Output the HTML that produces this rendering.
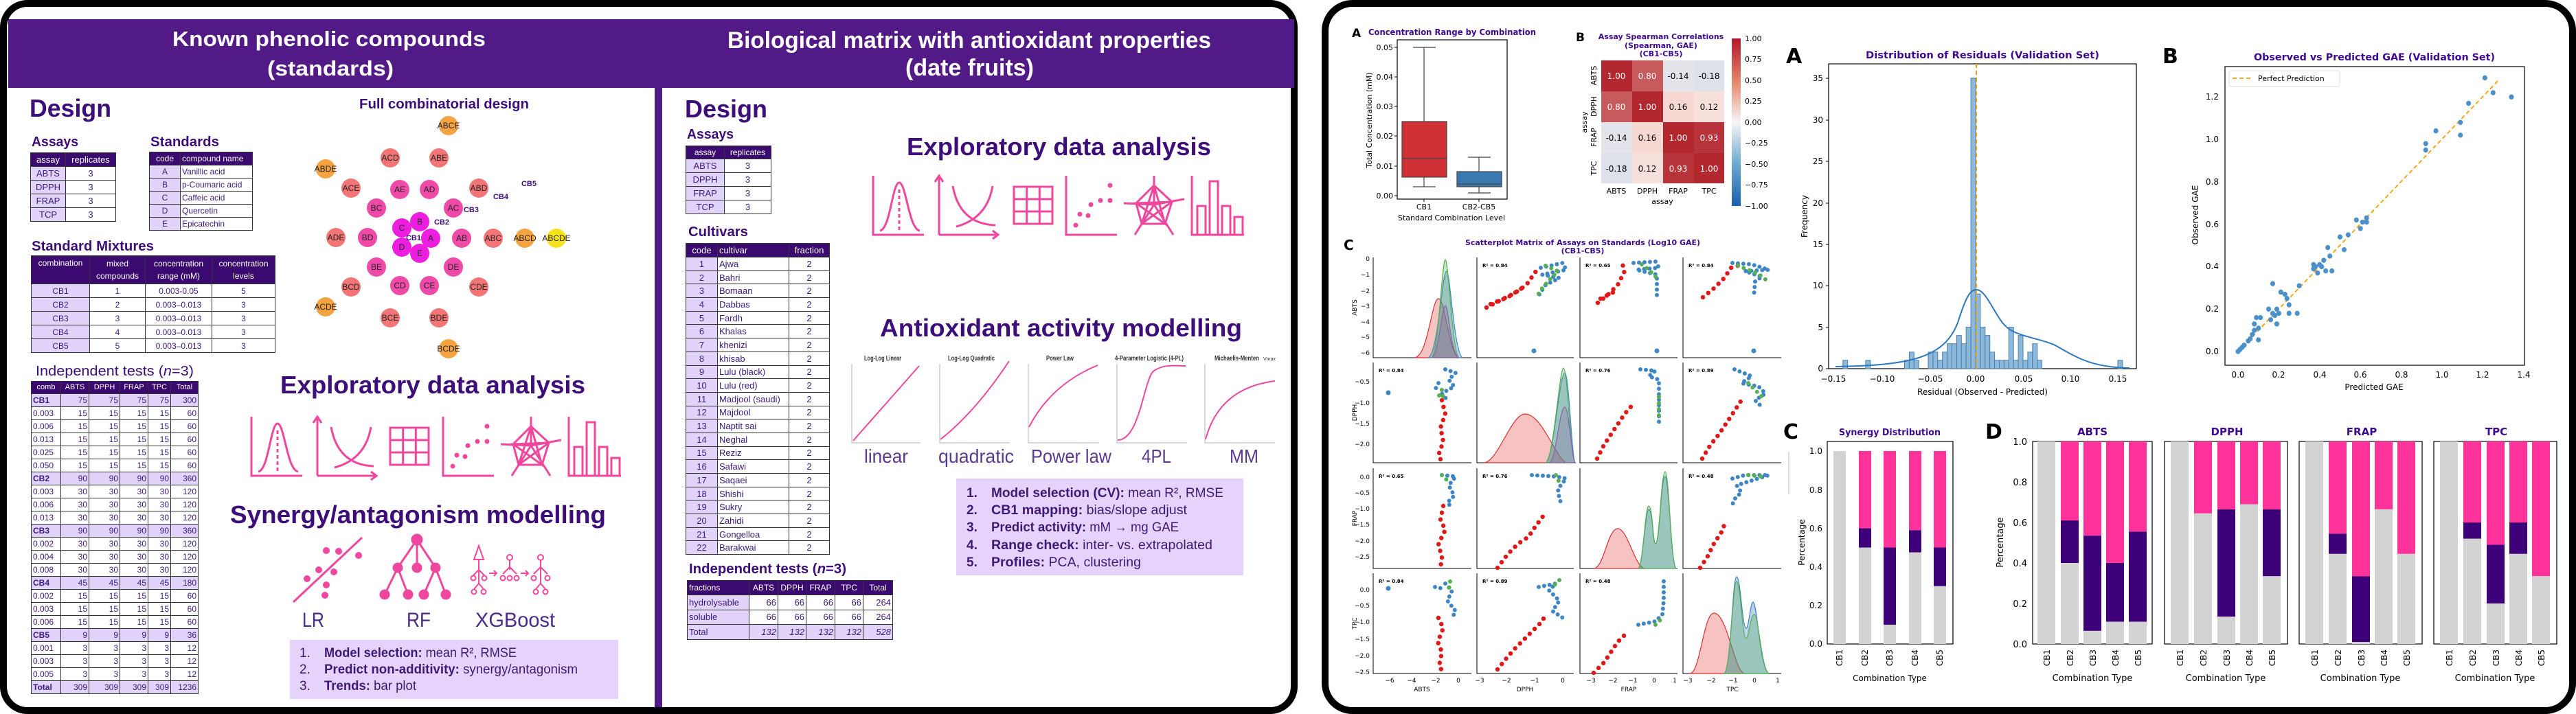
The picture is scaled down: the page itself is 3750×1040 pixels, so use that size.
<!DOCTYPE html>
<html><head><meta charset="utf-8">
<style>
*{margin:0;padding:0;box-sizing:border-box}
body{width:3750px;height:1040px;background:#fff;position:relative;overflow:hidden;font-family:"Liberation Sans",sans-serif}
.frame{position:absolute;border:10px solid #000;background:#fff}
table{position:absolute;border-collapse:collapse;table-layout:fixed;font-family:"Liberation Sans Narrow","Liberation Sans",sans-serif;color:#3b1a80}
td{border:1.5px solid #333;padding:0 2px;line-height:1;overflow:hidden;white-space:nowrap}
tr.h td{background:#3a0a70;color:#fff;text-align:center}
td.l{background:#e2d3fb}
tr.s td{background:#e2d3fb}
.c{text-align:center}.r{text-align:right}
svg{position:absolute;left:0;top:0}
</style></head><body>

<div class="frame" style="left:0;top:0;width:1889px;height:1040px;border-radius:40px"></div>
<div class="frame" style="left:1924px;top:0;width:1826px;height:1040px;border-radius:45px"></div>
<div style="position:absolute;left:12px;top:28px;width:1872px;height:100px;background:#521a87"></div>
<div style="position:absolute;left:953px;top:128px;width:11px;height:902px;background:#521a87"></div>

<!-- LEFT TABLES -->
<table style="left:44px;top:222px;width:124px;font-size:13px">
<col width="51"><col width="73">
<tr class="h" style="height:20px"><td>assay</td><td>replicates</td></tr>
<tr style="height:20px"><td class="l c">ABTS</td><td class="c">3</td></tr>
<tr style="height:20px"><td class="l c">DPPH</td><td class="c">3</td></tr>
<tr style="height:20px"><td class="l c">FRAP</td><td class="c">3</td></tr>
<tr style="height:20px"><td class="l c">TCP</td><td class="c">3</td></tr>
</table>
<table style="left:217px;top:221px;width:150px;font-size:12px">
<col width="45"><col width="105">
<tr class="h" style="height:19px"><td>code</td><td style="text-align:left">compound name</td></tr>
<tr style="height:19px"><td class="l c">A</td><td>Vanillic acid</td></tr>
<tr style="height:19px"><td class="l c">B</td><td>p-Coumaric acid</td></tr>
<tr style="height:19px"><td class="l c">C</td><td>Caffeic acid</td></tr>
<tr style="height:19px"><td class="l c">D</td><td>Quercetin</td></tr>
<tr style="height:19px"><td class="l c">E</td><td>Epicatechin</td></tr>
</table>
<table style="left:45px;top:372px;width:355px;font-size:12px">
<col width="85"><col width="81"><col width="97"><col width="92">
<tr class="h" style="height:41px"><td style="vertical-align:top;padding-top:4px">combination</td><td style="line-height:18px">mixed<br>compounds</td><td style="line-height:18px;padding:0">concentration<br>range (mM)</td><td style="line-height:18px;padding:0">concentration<br>levels</td></tr>
<tr style="height:20px"><td class="l c">CB1</td><td class="c">1</td><td class="c">0.003-0.05</td><td class="c">5</td></tr>
<tr style="height:20px"><td class="l c">CB2</td><td class="c">2</td><td class="c">0.003–0.013</td><td class="c">3</td></tr>
<tr style="height:20px"><td class="l c">CB3</td><td class="c">3</td><td class="c">0.003–0.013</td><td class="c">3</td></tr>
<tr style="height:20px"><td class="l c">CB4</td><td class="c">4</td><td class="c">0.003–0.013</td><td class="c">3</td></tr>
<tr style="height:20px"><td class="l c">CB5</td><td class="c">5</td><td class="c">0.003–0.013</td><td class="c">3</td></tr>
</table>
<table style="left:45px;top:555px;width:243px;font-size:12px">
<col width="43"><col width="41"><col width="45"><col width="41"><col width="33"><col width="40">
<tr class="h" style="height:18px;font-size:11px"><td style="padding:0 1px">comb</td><td style="padding:0">ABTS</td><td style="padding:0">DPPH</td><td style="padding:0">FRAP</td><td style="padding:0">TPC</td><td style="padding:0">Total</td></tr>
<tr class="s" style="height:19px"><td><b>CB1</b></td><td class="r">75</td><td class="r">75</td><td class="r">75</td><td class="r">75</td><td class="r">300</td></tr>
<tr style="height:19px"><td>0.003</td><td class="r">15</td><td class="r">15</td><td class="r">15</td><td class="r">15</td><td class="r">60</td></tr>
<tr style="height:19px"><td>0.006</td><td class="r">15</td><td class="r">15</td><td class="r">15</td><td class="r">15</td><td class="r">60</td></tr>
<tr style="height:19px"><td>0.013</td><td class="r">15</td><td class="r">15</td><td class="r">15</td><td class="r">15</td><td class="r">60</td></tr>
<tr style="height:19px"><td>0.025</td><td class="r">15</td><td class="r">15</td><td class="r">15</td><td class="r">15</td><td class="r">60</td></tr>
<tr style="height:19px"><td>0.050</td><td class="r">15</td><td class="r">15</td><td class="r">15</td><td class="r">15</td><td class="r">60</td></tr>
<tr class="s" style="height:19px"><td><b>CB2</b></td><td class="r">90</td><td class="r">90</td><td class="r">90</td><td class="r">90</td><td class="r">360</td></tr>
<tr style="height:19px"><td>0.003</td><td class="r">30</td><td class="r">30</td><td class="r">30</td><td class="r">30</td><td class="r">120</td></tr>
<tr style="height:19px"><td>0.006</td><td class="r">30</td><td class="r">30</td><td class="r">30</td><td class="r">30</td><td class="r">120</td></tr>
<tr style="height:19px"><td>0.013</td><td class="r">30</td><td class="r">30</td><td class="r">30</td><td class="r">30</td><td class="r">120</td></tr>
<tr class="s" style="height:19px"><td><b>CB3</b></td><td class="r">90</td><td class="r">90</td><td class="r">90</td><td class="r">90</td><td class="r">360</td></tr>
<tr style="height:19px"><td>0.002</td><td class="r">30</td><td class="r">30</td><td class="r">30</td><td class="r">30</td><td class="r">120</td></tr>
<tr style="height:19px"><td>0.004</td><td class="r">30</td><td class="r">30</td><td class="r">30</td><td class="r">30</td><td class="r">120</td></tr>
<tr style="height:19px"><td>0.008</td><td class="r">30</td><td class="r">30</td><td class="r">30</td><td class="r">30</td><td class="r">120</td></tr>
<tr class="s" style="height:19px"><td><b>CB4</b></td><td class="r">45</td><td class="r">45</td><td class="r">45</td><td class="r">45</td><td class="r">180</td></tr>
<tr style="height:19px"><td>0.002</td><td class="r">15</td><td class="r">15</td><td class="r">15</td><td class="r">15</td><td class="r">60</td></tr>
<tr style="height:19px"><td>0.003</td><td class="r">15</td><td class="r">15</td><td class="r">15</td><td class="r">15</td><td class="r">60</td></tr>
<tr style="height:19px"><td>0.006</td><td class="r">15</td><td class="r">15</td><td class="r">15</td><td class="r">15</td><td class="r">60</td></tr>
<tr class="s" style="height:19px"><td><b>CB5</b></td><td class="r">9</td><td class="r">9</td><td class="r">9</td><td class="r">9</td><td class="r">36</td></tr>
<tr style="height:19px"><td>0.001</td><td class="r">3</td><td class="r">3</td><td class="r">3</td><td class="r">3</td><td class="r">12</td></tr>
<tr style="height:19px"><td>0.003</td><td class="r">3</td><td class="r">3</td><td class="r">3</td><td class="r">3</td><td class="r">12</td></tr>
<tr style="height:19px"><td>0.005</td><td class="r">3</td><td class="r">3</td><td class="r">3</td><td class="r">3</td><td class="r">12</td></tr>
<tr class="s" style="height:19px"><td><b>Total</b></td><td class="r">309</td><td class="r">309</td><td class="r">309</td><td class="r">309</td><td class="r">1236</td></tr>
</table>

<!-- RIGHT-HALF TABLES -->
<table style="left:998px;top:212px;width:124px;font-size:13px;font-family:'Liberation Sans',sans-serif">
<col width="56"><col width="68">
<tr class="h" style="height:19px;font-size:12px"><td>assay</td><td>replicates</td></tr>
<tr style="height:20px"><td class="l c">ABTS</td><td class="c">3</td></tr>
<tr style="height:20px"><td class="l c">DPPH</td><td class="c">3</td></tr>
<tr style="height:20px"><td class="l c">FRAP</td><td class="c">3</td></tr>
<tr style="height:20px"><td class="l c">TCP</td><td class="c">3</td></tr>
</table>
<table style="left:998px;top:354px;width:209px;font-size:13px;font-family:'Liberation Sans',sans-serif">
<col width="46"><col width="104"><col width="59">
<tr class="h" style="height:20px"><td>code</td><td style="text-align:left">cultivar</td><td>fraction</td></tr>
<tr style="height:19.7px"><td class="l c">1</td><td>Ajwa</td><td class="c">2</td></tr>
<tr style="height:19.7px"><td class="l c">2</td><td>Bahri</td><td class="c">2</td></tr>
<tr style="height:19.7px"><td class="l c">3</td><td>Bomaan</td><td class="c">2</td></tr>
<tr style="height:19.7px"><td class="l c">4</td><td>Dabbas</td><td class="c">2</td></tr>
<tr style="height:19.7px"><td class="l c">5</td><td>Fardh</td><td class="c">2</td></tr>
<tr style="height:19.7px"><td class="l c">6</td><td>Khalas</td><td class="c">2</td></tr>
<tr style="height:19.7px"><td class="l c">7</td><td>khenizi</td><td class="c">2</td></tr>
<tr style="height:19.7px"><td class="l c">8</td><td>khisab</td><td class="c">2</td></tr>
<tr style="height:19.7px"><td class="l c">9</td><td>Lulu (black)</td><td class="c">2</td></tr>
<tr style="height:19.7px"><td class="l c">10</td><td>Lulu (red)</td><td class="c">2</td></tr>
<tr style="height:19.7px"><td class="l c">11</td><td>Madjool (saudi)</td><td class="c">2</td></tr>
<tr style="height:19.7px"><td class="l c">12</td><td>Majdool</td><td class="c">2</td></tr>
<tr style="height:19.7px"><td class="l c">13</td><td>Naptit sai</td><td class="c">2</td></tr>
<tr style="height:19.7px"><td class="l c">14</td><td>Neghal</td><td class="c">2</td></tr>
<tr style="height:19.7px"><td class="l c">15</td><td>Reziz</td><td class="c">2</td></tr>
<tr style="height:19.7px"><td class="l c">16</td><td>Safawi</td><td class="c">2</td></tr>
<tr style="height:19.7px"><td class="l c">17</td><td>Saqaei</td><td class="c">2</td></tr>
<tr style="height:19.7px"><td class="l c">18</td><td>Shishi</td><td class="c">2</td></tr>
<tr style="height:19.7px"><td class="l c">19</td><td>Sukry</td><td class="c">2</td></tr>
<tr style="height:19.7px"><td class="l c">20</td><td>Zahidi</td><td class="c">2</td></tr>
<tr style="height:19.7px"><td class="l c">21</td><td>Gongelloa</td><td class="c">2</td></tr>
<tr style="height:19.7px"><td class="l c">22</td><td>Barakwai</td><td class="c">2</td></tr>
</table>
<table style="left:1000px;top:845px;width:299px;font-size:13px;font-family:'Liberation Sans',sans-serif">
<col width="90"><col width="42"><col width="41"><col width="42"><col width="41"><col width="43">
<tr class="h" style="height:21px;font-size:12px"><td style="text-align:left">fractions</td><td style="padding:0">ABTS</td><td style="padding:0">DPPH</td><td style="padding:0">FRAP</td><td>TPC</td><td style="padding:0">Total</td></tr>
<tr style="height:21.5px"><td class="l">hydrolysable</td><td class="r">66</td><td class="r">66</td><td class="r">66</td><td class="r">66</td><td class="r">264</td></tr>
<tr style="height:21.5px"><td class="l">soluble</td><td class="r">66</td><td class="r">66</td><td class="r">66</td><td class="r">66</td><td class="r">264</td></tr>
<tr class="s" style="height:21.5px;font-style:italic"><td style="font-style:normal">Total</td><td class="r">132</td><td class="r">132</td><td class="r">132</td><td class="r">132</td><td class="r">528</td></tr>
</table>

<svg width="3750" height="1040" viewBox="0 0 3750 1040" font-family="Liberation Sans, sans-serif">
<defs>
<g id="i1" fill="none" stroke="#f0479e" stroke-width="3"><path d="M0,0V86H74"/><path d="M10,80C25,78 28,10 38,10C48,10 52,78 68,80"/><path d="M38,20V80" stroke-dasharray="5 4"/></g>
<g id="i2" fill="none" stroke="#f0479e" stroke-width="3"><path d="M0,86V0M-6,9L0,0L6,9M0,86H86M78,80L86,86L78,92"/><path d="M20,15Q30,70 82,72"/><path d="M25,74Q70,62 78,15"/></g>
<g id="i3" fill="none" stroke="#f0479e" stroke-width="3"><rect x="0" y="16" width="56" height="54"/><path d="M18.7,16V70M37.3,16V70M0,34H56M0,52H56"/></g>
<g id="i4"><path d="M0,0V86H74" fill="none" stroke="#f0479e" stroke-width="3"/><g fill="#f0479e"><circle cx="14" cy="72" r="3.5"/><circle cx="20" cy="56" r="3.5"/><circle cx="32" cy="58" r="3.5"/><circle cx="36" cy="42" r="3.5"/><circle cx="50" cy="36" r="3.5"/><circle cx="64" cy="36" r="3.5"/><circle cx="64" cy="14" r="3.5"/></g></g>
<g id="i5" fill="none" stroke="#f0479e" stroke-width="3"><path d="M44,0V42M0,40L44,42L88,34M44,42L16,86M44,42L72,86"/><path d="M44,14L70,38L60,70L26,70L18,40Z"/><path d="M44,14L60,70L18,40L70,38L26,70Z"/></g>
<g id="i6" fill="none" stroke="#f0479e" stroke-width="3"><path d="M0,0V86H76"/><rect x="8" y="44" width="12" height="42"/><rect x="26" y="8" width="12" height="78"/><rect x="44" y="44" width="12" height="42"/><rect x="62" y="60" width="12" height="26"/></g>
</defs>

<g fill="#fff" font-weight="bold">
<text x="251" y="67" font-size="31" textLength="456" lengthAdjust="spacingAndGlyphs">Known phenolic compounds</text>
<text x="389" y="110" font-size="31" textLength="184" lengthAdjust="spacingAndGlyphs">(standards)</text>
<text x="1059" y="70" font-size="34" textLength="704" lengthAdjust="spacingAndGlyphs">Biological matrix with antioxidant properties</text>
<text x="1318" y="110" font-size="34" textLength="187" lengthAdjust="spacingAndGlyphs">(date fruits)</text>
</g>
<g fill="#3d0d7a" font-weight="bold">
<text x="43" y="170" font-size="36" textLength="119" lengthAdjust="spacingAndGlyphs">Design</text>
<text x="46" y="213" font-size="20" textLength="68" lengthAdjust="spacingAndGlyphs">Assays</text>
<text x="219" y="213" font-size="20" textLength="100" lengthAdjust="spacingAndGlyphs">Standards</text>
<text x="46" y="365" font-size="20" textLength="178" lengthAdjust="spacingAndGlyphs">Standard Mixtures</text>
<text x="523" y="158" font-size="20" textLength="247" lengthAdjust="spacingAndGlyphs">Full combinatorial design</text>
<text x="52" y="547" font-size="20" font-weight="normal" textLength="230" lengthAdjust="spacingAndGlyphs">Independent tests (<tspan font-style="italic">n</tspan>=3)</text>
<text x="408" y="573" font-size="36" textLength="444" lengthAdjust="spacingAndGlyphs">Exploratory data analysis</text>
<text x="335" y="762" font-size="36" textLength="547" lengthAdjust="spacingAndGlyphs">Synergy/antagonism modelling</text>
<text x="997" y="171" font-size="36" textLength="120" lengthAdjust="spacingAndGlyphs">Design</text>
<text x="1000" y="202" font-size="20" textLength="68" lengthAdjust="spacingAndGlyphs">Assays</text>
<text x="1002" y="344" font-size="20" textLength="87" lengthAdjust="spacingAndGlyphs">Cultivars</text>
<text x="1003" y="835" font-size="20" textLength="229" lengthAdjust="spacingAndGlyphs">Independent tests (<tspan font-style="italic">n</tspan>=3)</text>
<text x="1320" y="226" font-size="36" textLength="443" lengthAdjust="spacingAndGlyphs">Exploratory data analysis</text>
<text x="1281" y="490" font-size="36" textLength="527" lengthAdjust="spacingAndGlyphs">Antioxidant activity modelling</text>
</g>

<g font-size="12" text-anchor="middle" fill="#222">
<g fill="#f4a340"><circle cx="653" cy="183" r="14"/><circle cx="474" cy="246" r="14"/><circle cx="764" cy="347" r="14"/><circle cx="474" cy="447" r="14"/><circle cx="653" cy="508" r="14"/></g>
<circle cx="810" cy="347" r="14" fill="#f5e31a"/>
<g fill="#f47575"><circle cx="568" cy="230" r="14"/><circle cx="639" cy="230" r="14"/><circle cx="511" cy="274" r="14"/><circle cx="697" cy="274" r="14"/><circle cx="489" cy="346" r="14"/><circle cx="718" cy="347" r="14"/><circle cx="511" cy="418" r="14"/><circle cx="697" cy="418" r="14"/><circle cx="568" cy="463" r="14"/><circle cx="639" cy="463" r="14"/></g>
<g fill="#f04aa8"><circle cx="582" cy="276" r="14"/><circle cx="625" cy="276" r="14"/><circle cx="548" cy="303" r="14"/><circle cx="660" cy="303" r="14"/><circle cx="535" cy="346" r="14"/><circle cx="672" cy="347" r="14"/><circle cx="548" cy="389" r="14"/><circle cx="660" cy="389" r="14"/><circle cx="582" cy="416" r="14"/><circle cx="625" cy="416" r="14"/></g>
<g fill="#ee1ee0"><circle cx="611" cy="323" r="14"/><circle cx="585" cy="332" r="14"/><circle cx="627" cy="347" r="14"/><circle cx="585" cy="360" r="14"/><circle cx="611" cy="369" r="14"/></g>
<text x="653" y="187">ABCE</text><text x="474" y="250">ABDE</text><text x="764" y="351">ABCD</text><text x="474" y="451">ACDE</text><text x="653" y="512">BCDE</text><text x="810" y="351">ABCDE</text>
<text x="568" y="234">ACD</text><text x="639" y="234">ABE</text><text x="511" y="278">ACE</text><text x="697" y="278">ABD</text><text x="489" y="350">ADE</text><text x="718" y="351">ABC</text><text x="511" y="422">BCD</text><text x="697" y="422">CDE</text><text x="568" y="467">BCE</text><text x="639" y="467">BDE</text>
<text x="582" y="280">AE</text><text x="625" y="280">AD</text><text x="548" y="307">BC</text><text x="660" y="307">AC</text><text x="535" y="350">BD</text><text x="672" y="351">AB</text><text x="548" y="393">BE</text><text x="660" y="393">DE</text><text x="582" y="420">CD</text><text x="625" y="420">CE</text>
<text x="611" y="327">B</text><text x="585" y="336">C</text><text x="627" y="351">A</text><text x="585" y="364">D</text><text x="611" y="373">E</text>
<g font-weight="bold" fill="#3d0d7a" font-size="11"><text x="770" y="271">CB5</text><text x="729" y="290">CB4</text><text x="686" y="309">CB3</text><text x="643" y="327">CB2</text><text x="602" y="350">CB1</text></g>
</g>

<use href="#i1" transform="translate(366,607)"/><use href="#i2" transform="translate(462,607)"/><use href="#i3" transform="translate(568,607)"/><use href="#i4" transform="translate(645,607)"/><use href="#i5" transform="translate(729,607)"/><use href="#i6" transform="translate(828,607)"/>
<use href="#i1" transform="translate(1271,256)"/><use href="#i2" transform="translate(1367,256)"/><use href="#i3" transform="translate(1476,256)"/><use href="#i4" transform="translate(1552,256)"/><use href="#i5" transform="translate(1636,256)"/><use href="#i6" transform="translate(1735,256)"/>

<g fill="#f0479e" stroke="#f0479e" stroke-width="3">
<path d="M427,877L527,783" fill="none"/>
<circle cx="475" cy="802" r="5" stroke="none"/><circle cx="493" cy="803" r="5" stroke="none"/><circle cx="522" cy="809" r="5" stroke="none"/><circle cx="464" cy="830" r="5" stroke="none"/><circle cx="486" cy="833" r="5" stroke="none"/><circle cx="447" cy="843" r="5" stroke="none"/><circle cx="475" cy="852" r="5" stroke="none"/><circle cx="473" cy="867" r="5" stroke="none"/>
<path d="M607,786L579,827M607,786V827M607,786L634,827M579,827L560,866M579,827L594,866M634,827L617,866M634,827L649,866" fill="none"/>
<circle cx="607" cy="786" r="7"/><circle cx="579" cy="827" r="6"/><circle cx="607" cy="827" r="6"/><circle cx="634" cy="827" r="6"/><circle cx="560" cy="866" r="6"/><circle cx="594" cy="866" r="6"/><circle cx="617" cy="866" r="6"/><circle cx="649" cy="866" r="6"/>
</g>
<g fill="none" stroke="#f0479e" stroke-width="2">
<path d="M697,795L690,815H704Z"/><path d="M697,815V850M697,830L689,838M697,830L705,838M697,850L690,858M697,850L704,858"/>
<circle cx="689" cy="842" r="3.5"/><circle cx="705" cy="842" r="3.5"/><circle cx="690" cy="862" r="3.5"/><circle cx="704" cy="862" r="3.5"/>
<path d="M712,835H722M719,831L723,835L719,839"/>
<circle cx="742" cy="812" r="4"/><path d="M742,816V830M742,826L732,836M742,826L752,836"/><circle cx="732" cy="842" r="3.5"/><circle cx="742" cy="842" r="3.5"/><circle cx="752" cy="842" r="3.5"/>
<path d="M758,835H768M765,831L769,835L765,839"/>
<circle cx="787" cy="812" r="4"/><path d="M787,816V850M787,826L777,836M787,826L797,836M787,850L780,858M787,850L794,858"/><circle cx="777" cy="842" r="3.5"/><circle cx="797" cy="842" r="3.5"/><circle cx="780" cy="862" r="3.5"/><circle cx="794" cy="862" r="3.5"/>
</g>
<g fill="#4a2a8a" font-size="30"><text x="440" y="913" textLength="32" lengthAdjust="spacingAndGlyphs">LR</text><text x="592" y="913" textLength="35" lengthAdjust="spacingAndGlyphs">RF</text><text x="692" y="913" textLength="116" lengthAdjust="spacingAndGlyphs">XGBoost</text></g>

<rect x="422" y="932" width="478" height="86" fill="#e5d3fb"/>
<g fill="#3d1a78" font-size="19">
<text x="436" y="957">1.</text><text x="472" y="957" textLength="280" lengthAdjust="spacingAndGlyphs"><tspan font-weight="bold">Model selection:</tspan> mean R², RMSE</text>
<text x="436" y="981">2.</text><text x="472" y="981" textLength="369" lengthAdjust="spacingAndGlyphs"><tspan font-weight="bold">Predict non-additivity:</tspan> synergy/antagonism</text>
<text x="436" y="1005">3.</text><text x="472" y="1005" textLength="134" lengthAdjust="spacingAndGlyphs"><tspan font-weight="bold">Trends:</tspan> bar plot</text>
</g>

<g fill="none" stroke="#ccc" stroke-width="1.5">
<path d="M1240,530V645H1340"/><path d="M1368,530V645H1470"/><path d="M1497,530V645H1600"/><path d="M1626,530V645H1728"/><path d="M1754,530V645H1856"/>
</g>
<g fill="none" stroke="#f0479e" stroke-width="2">
<path d="M1242,642L1338,533"/><path d="M1369,640Q1420,600 1469,526"/><path d="M1498,622Q1530,560 1598,532"/><path d="M1627,641C1660,641 1665,550 1680,540S1710,533 1726,533"/><path d="M1755,640Q1775,565 1856,555"/>
</g>
<g fill="#333" font-size="10" font-weight="bold">
<text x="1258" y="525" textLength="54" lengthAdjust="spacingAndGlyphs">Log-Log Linear</text>
<text x="1380" y="525" textLength="68" lengthAdjust="spacingAndGlyphs">Log-Log Quadratic</text>
<text x="1523" y="525" textLength="40" lengthAdjust="spacingAndGlyphs">Power Law</text>
<text x="1623" y="525" textLength="100" lengthAdjust="spacingAndGlyphs">4-Parameter Logistic (4-PL)</text>
<text x="1768" y="525" textLength="65" lengthAdjust="spacingAndGlyphs">Michaelis-Menten</text>
<text x="1839" y="525" font-size="7" font-weight="normal">Vmax</text>
</g>
<g fill="#5a3a91" font-size="28">
<text x="1258" y="674" textLength="64" lengthAdjust="spacingAndGlyphs">linear</text>
<text x="1366" y="674" textLength="110" lengthAdjust="spacingAndGlyphs">quadratic</text>
<text x="1501" y="674" textLength="117" lengthAdjust="spacingAndGlyphs">Power law</text>
<text x="1662" y="674" textLength="43" lengthAdjust="spacingAndGlyphs">4PL</text>
<text x="1790" y="674" textLength="42" lengthAdjust="spacingAndGlyphs">MM</text>
</g>
<rect x="1392" y="697" width="418" height="141" fill="#e5d3fb"/>
<g fill="#3d1a78" font-size="19">
<text x="1407" y="724" font-weight="bold">1.</text><text x="1443" y="724" textLength="338" lengthAdjust="spacingAndGlyphs"><tspan font-weight="bold">Model selection (CV):</tspan> mean R², RMSE</text>
<text x="1407" y="749" font-weight="bold">2.</text><text x="1443" y="749" textLength="285" lengthAdjust="spacingAndGlyphs"><tspan font-weight="bold">CB1 mapping:</tspan> bias/slope adjust</text>
<text x="1407" y="774" font-weight="bold">3.</text><text x="1443" y="774" textLength="273" lengthAdjust="spacingAndGlyphs"><tspan font-weight="bold">Predict activity:</tspan> mM → mg GAE</text>
<text x="1407" y="800" font-weight="bold">4.</text><text x="1443" y="800" textLength="322" lengthAdjust="spacingAndGlyphs"><tspan font-weight="bold">Range check:</tspan> inter- vs. extrapolated</text>
<text x="1407" y="825" font-weight="bold">5.</text><text x="1443" y="825" textLength="218" lengthAdjust="spacingAndGlyphs"><tspan font-weight="bold">Profiles:</tspan> PCA, clustering</text>
</g>

<g font-family="DejaVu Sans, sans-serif">
<g font-weight="bold" fill="#000">
<text x="1968" y="54" font-size="17">A</text><text x="2294" y="60" font-size="17">B</text><text x="1956" y="364" font-size="20">C</text>
<text x="2600" y="92" font-size="30">A</text><text x="3148" y="92" font-size="30">B</text><text x="2596" y="639" font-size="30">C</text><text x="2890" y="639" font-size="30">D</text>
</g>
<g font-weight="bold" fill="#3d0a91">
<text x="1992" y="51" font-size="12" textLength="244" lengthAdjust="spacingAndGlyphs">Concentration Range by Combination</text>
<text x="2418" y="57" font-size="11" text-anchor="middle">Assay Spearman Correlations</text>
<text x="2418" y="70" font-size="11" text-anchor="middle">(Spearman, GAE)</text>
<text x="2418" y="82" font-size="11" text-anchor="middle">(CB1-CB5)</text>
<text x="2133" y="357" font-size="11" textLength="342" lengthAdjust="spacingAndGlyphs">Scatterplot Matrix of Assays on Standards (Log10 GAE)</text>
<text x="2304" y="369" font-size="11" text-anchor="middle">(CB1-CB5)</text>
<text x="2716" y="85" font-size="14" textLength="340" lengthAdjust="spacingAndGlyphs">Distribution of Residuals (Validation Set)</text>
<text x="3281" y="88" font-size="14" textLength="351" lengthAdjust="spacingAndGlyphs">Observed vs Predicted GAE (Validation Set)</text>
<text x="2677" y="634" font-size="13" textLength="148" lengthAdjust="spacingAndGlyphs">Synergy Distribution</text>
<g font-size="15" text-anchor="middle"><text x="3046" y="634">ABTS</text><text x="3242" y="634">DPPH</text><text x="3438" y="634">FRAP</text><text x="3634" y="634">TPC</text></g>
</g>

<rect x="2034" y="58" width="160" height="232" fill="none" stroke="#000" stroke-width="1.2"/>
<g stroke="#444" stroke-width="1.2" fill="none">
<path d="M2073,272V258M2073,177V69M2057,272H2090M2057,69H2090"/>
<path d="M2153,281V272M2153,250V229M2137,281H2170M2137,229H2170"/>
</g>
<rect x="2041" y="177" width="65" height="81" fill="#d03136" stroke="#444" stroke-width="1.2"/>
<path d="M2041,231H2106" stroke="#444" stroke-width="1.2"/>
<rect x="2121" y="250" width="65" height="22" fill="#3a78b0" stroke="#444" stroke-width="1.2"/>
<path d="M2121,268H2186" stroke="#444" stroke-width="1.2"/>
<g font-size="11" text-anchor="end" fill="#000">
<text x="2028" y="73">0.05</text><text x="2028" y="116">0.04</text><text x="2028" y="159">0.03</text><text x="2028" y="202">0.02</text><text x="2028" y="246">0.01</text><text x="2028" y="289">0.00</text>
</g>
<path d="M2030,69H2034M2030,112H2034M2030,155H2034M2030,198H2034M2030,242H2034M2030,285H2034M2073,290V294M2153,290V294" stroke="#000"/>
<g font-size="11" text-anchor="middle"><text x="2073" y="305">CB1</text><text x="2153" y="305">CB2-CB5</text><text x="2113" y="321">Standard Combination Level</text>
<text transform="translate(1997,175) rotate(-90)">Total Concentration (mM)</text></g>

<g font-size="12" text-anchor="middle">
<rect x="2331" y="88" width="45" height="45" fill="#b3282e"/><text x="2353" y="115" fill="#fff">1.00</text>
<rect x="2376" y="88" width="45" height="45" fill="#c75a5c"/><text x="2398" y="115" fill="#fff">0.80</text>
<rect x="2421" y="88" width="45" height="45" fill="#e2e4ea"/><text x="2443" y="115">-0.14</text>
<rect x="2466" y="88" width="44" height="45" fill="#dde1ea"/><text x="2488" y="115">-0.18</text>
<rect x="2331" y="133" width="45" height="45" fill="#c75a5c"/><text x="2353" y="160" fill="#fff">0.80</text>
<rect x="2376" y="133" width="45" height="45" fill="#b3282e"/><text x="2398" y="160" fill="#fff">1.00</text>
<rect x="2421" y="133" width="45" height="45" fill="#f6d7d2"/><text x="2443" y="160">0.16</text>
<rect x="2466" y="133" width="44" height="45" fill="#f7e0dc"/><text x="2488" y="160">0.12</text>
<rect x="2331" y="178" width="45" height="45" fill="#e2e4ea"/><text x="2353" y="205">-0.14</text>
<rect x="2376" y="178" width="45" height="45" fill="#f6d7d2"/><text x="2398" y="205">0.16</text>
<rect x="2421" y="178" width="45" height="45" fill="#b3282e"/><text x="2443" y="205" fill="#fff">1.00</text>
<rect x="2466" y="178" width="44" height="45" fill="#b8333a"/><text x="2488" y="205" fill="#fff">0.93</text>
<rect x="2331" y="223" width="45" height="44" fill="#dde1ea"/><text x="2353" y="250">-0.18</text>
<rect x="2376" y="223" width="45" height="44" fill="#f7e0dc"/><text x="2398" y="250">0.12</text>
<rect x="2421" y="223" width="45" height="44" fill="#b8333a"/><text x="2443" y="250" fill="#fff">0.93</text>
<rect x="2466" y="223" width="44" height="44" fill="#b3282e"/><text x="2488" y="250" fill="#fff">1.00</text>
<text x="2353" y="282" font-size="11">ABTS</text><text x="2398" y="282" font-size="11">DPPH</text><text x="2443" y="282" font-size="11">FRAP</text><text x="2488" y="282" font-size="11">TPC</text>
<text x="2420" y="297" font-size="11">assay</text>
<g font-size="11"><text transform="translate(2324,110) rotate(-90)">ABTS</text><text transform="translate(2324,155) rotate(-90)">DPPH</text><text transform="translate(2324,200) rotate(-90)">FRAP</text><text transform="translate(2324,245) rotate(-90)">TPC</text><text transform="translate(2310,178) rotate(-90)">assay</text></g>
</g>
<linearGradient id="cb" x1="0" y1="0" x2="0" y2="1"><stop offset="0" stop-color="#b2182b"/><stop offset=".25" stop-color="#e58268"/><stop offset=".5" stop-color="#f7f6f6"/><stop offset=".75" stop-color="#6aa9d0"/><stop offset="1" stop-color="#1c5fae"/></linearGradient>
<rect x="2521" y="56" width="13" height="244" fill="url(#cb)"/>
<g font-size="11"><text x="2540" y="60">1.00</text><text x="2540" y="90">0.75</text><text x="2540" y="121">0.50</text><text x="2540" y="151">0.25</text><text x="2540" y="182">0.00</text><text x="2540" y="212">−0.25</text><text x="2540" y="243">−0.50</text><text x="2540" y="273">−0.75</text><text x="2540" y="304">−1.00</text></g>

<g stroke="#000" stroke-width="1" fill="none">
<path d="M1999,375V521H2142M2150,375V521H2291M2300,375V521H2442M2450,375V521H2593"/>
<path d="M1999,528V674H2142M2150,528V674H2291M2300,528V674H2442M2450,528V674H2593"/>
<path d="M1999,682V828H2142M2150,682V828H2291M2300,682V828H2442M2450,682V828H2593"/>
<path d="M1999,835V981H2142M2150,835V981H2291M2300,835V981H2442M2450,835V981H2593"/>
</g>
<g font-size="9" text-anchor="end">
<text x="1994" y="380">0</text><text x="1994" y="403">−1</text><text x="1994" y="427">−2</text><text x="1994" y="449">−3</text><text x="1994" y="472">−4</text><text x="1994" y="494">−5</text><text x="1994" y="517">−6</text>
<text x="1994" y="559">−0.5</text><text x="1994" y="590">−1.0</text><text x="1994" y="620">−1.5</text><text x="1994" y="650">−2.0</text>
<text x="1994" y="698">0.0</text><text x="1994" y="721">−0.5</text><text x="1994" y="744">−1.0</text><text x="1994" y="767">−1.5</text><text x="1994" y="791">−2.0</text><text x="1994" y="814">−2.5</text>
<text x="1994" y="862">0.0</text><text x="1994" y="885">−0.5</text><text x="1994" y="909">−1.0</text><text x="1994" y="934">−1.5</text><text x="1994" y="958">−2.0</text><text x="1994" y="982">−2.5</text>
</g>
<g font-size="9" text-anchor="middle">
<text x="2023" y="994">−6</text><text x="2055" y="994">−4</text><text x="2090" y="994">−2</text><text x="2123" y="994">0</text>
<text x="2154" y="994">−3</text><text x="2193" y="994">−2</text><text x="2234" y="994">−1</text><text x="2275" y="994">0</text>
<text x="2316" y="994">−3</text><text x="2348" y="994">−2</text><text x="2377" y="994">−1</text><text x="2408" y="994">0</text><text x="2438" y="994">1</text>
<text x="2457" y="994">−3</text><text x="2491" y="994">−2</text><text x="2523" y="994">−1</text><text x="2554" y="994">0</text><text x="2588" y="994">1</text>
<text x="2070" y="1007">ABTS</text><text x="2220" y="1007">DPPH</text><text x="2371" y="1007">FRAP</text><text x="2522" y="1007">TPC</text>
<text transform="translate(1975,448) rotate(-90)">ABTS</text><text transform="translate(1975,601) rotate(-90)">DPPH</text><text transform="translate(1975,755) rotate(-90)">FRAP</text><text transform="translate(1975,908) rotate(-90)">TPC</text>
</g>
<g font-size="7" font-weight="bold">
<text x="2158" y="389">R² = 0.84</text><text x="2308" y="389">R² = 0.65</text><text x="2458" y="389">R² = 0.84</text>
<text x="2007" y="542">R² = 0.84</text><text x="2308" y="542">R² = 0.76</text><text x="2458" y="542">R² = 0.89</text>
<text x="2007" y="696">R² = 0.65</text><text x="2158" y="696">R² = 0.76</text><text x="2458" y="696">R² = 0.48</text>
<text x="2007" y="849">R² = 0.84</text><text x="2158" y="849">R² = 0.89</text><text x="2308" y="849">R² = 0.48</text>
</g>
<style>
.rd{fill:none;stroke:#e01818;stroke-width:6.5;stroke-linecap:round;stroke-dasharray:0 10}
.bl{fill:none;stroke:#3d85c6;stroke-width:6;stroke-linecap:round;stroke-dasharray:0 8}
.gr{fill:none;stroke:#55b050;stroke-width:6;stroke-linecap:round;stroke-dasharray:0 9}
</style>
<g transform="translate(2150,375)"><path class="rd" d="M14,73L35,62L55,52L72,40L86,20M20,68L45,58L65,45"/><path class="bl" d="M93,15L125,8L130,18L95,25L120,30L100,40L90,55"/><path class="gr" d="M100,12L118,20L108,30L95,45L85,60"/><circle cx="83" cy="136" r="3.5" fill="#3d85c6"/></g>
<g transform="translate(2300,375)"><path class="rd" d="M26,66L40,55L55,40L65,20L62,10M30,60L50,50"/><path class="bl" d="M78,8L110,6L115,15L82,18L112,25L112,40L112,58"/><path class="gr" d="M90,10L100,18L112,30"/><circle cx="112" cy="136" r="3.5" fill="#3d85c6"/></g>
<g transform="translate(2450,375)"><path class="rd" d="M29,58L45,45L60,30L70,15L80,12"/><path class="bl" d="M72,8L100,10L125,18L90,20L115,28L105,35L103,58"/><path class="gr" d="M80,12L110,24L120,32"/><circle cx="103" cy="136" r="3.5" fill="#3d85c6"/></g>
<g transform="translate(1999,528)"><path class="rd" d="M100,55L105,75L98,95L102,115L95,135L100,145"/><path class="bl" d="M105,10L120,15L110,25L118,35L100,45L108,55M95,30L90,40"/><path class="gr" d="M100,40L95,50L110,48"/><circle cx="22" cy="44" r="3.5" fill="#3d85c6"/></g>
<g transform="translate(2300,528)"><path class="rd" d="M25,140L35,120L45,105L55,90L65,75L78,60"/><path class="bl" d="M88,10L110,12L100,20L115,25L115,45L115,65L115,90"/><path class="gr" d="M115,50L115,80"/></g>
<g transform="translate(2450,528)"><path class="rd" d="M28,140L40,120L52,105L62,90L72,75L85,55"/><path class="bl" d="M75,10L100,20L85,30L110,35L120,45L105,55L115,65"/><path class="gr" d="M95,30L115,50"/></g>
<g transform="translate(1999,682)"><path class="rd" d="M102,55L98,75L105,90L95,110L100,130L98,145"/><path class="bl" d="M100,10L120,12L110,25L118,40L108,50L115,58"/><path class="gr" d="M100,10L110,20"/></g>
<g transform="translate(2150,682)"><path class="rd" d="M30,145L45,125L60,110L75,100L85,85L100,65"/><path class="bl" d="M80,10L115,12L130,15L118,30L120,45L125,55"/><path class="gr" d="M115,10L122,25"/></g>
<g transform="translate(2450,682)"><path class="rd" d="M25,145L35,130L45,110L58,90L62,75"/><path class="bl" d="M72,15L90,10L125,10L78,25L85,35L75,45L70,58"/><path class="gr" d="M95,10L115,12"/></g>
<g transform="translate(1999,835)"><path class="rd" d="M95,65L102,80L94,100L100,115L96,135L102,145"/><path class="bl" d="M105,15L115,25L108,40L120,55L115,65M90,20L100,22"/><path class="gr" d="M112,12L110,22"/><circle cx="22" cy="22" r="3.5" fill="#3d85c6"/></g>
<g transform="translate(2150,835)"><path class="rd" d="M30,140L42,125L55,110L65,100L80,85L95,70L100,60"/><path class="bl" d="M90,20L115,15L105,25L120,40L110,55L125,65"/><path class="gr" d="M120,10L110,20"/></g>
<g transform="translate(2300,835)"><path class="rd" d="M20,145L35,130L45,115L55,100L70,85"/><path class="bl" d="M85,75L110,70L120,60L122,40L122,20L122,10"/><path class="gr" d="M110,75L120,65"/></g>
<g transform="translate(1999,375)" stroke-width="1.2">
<path d="M60,146C80,145 85,60 95,60C105,60 110,140 125,146Z" fill="rgba(230,80,80,.35)" stroke="#e03030"/>
<path d="M80,146C95,140 100,20 107,20C112,20 118,140 130,146Z" fill="rgba(60,130,200,.35)" stroke="#3d85c6"/>
<path d="M85,146C95,140 100,5 105,3C110,5 115,140 125,146Z" fill="rgba(80,170,80,.3)" stroke="#55b050"/>
<path d="M85,146C95,146 100,70 105,70C110,70 112,140 125,146Z" fill="rgba(140,100,170,.3)" stroke="#8a60b0"/>
</g>
<g transform="translate(2150,528)" stroke-width="1.2">
<path d="M10,146C30,146 50,75 70,75C95,75 115,140 130,146Z" fill="rgba(230,80,80,.35)" stroke="#e03030"/>
<path d="M100,146C112,140 120,15 128,15C134,15 138,140 143,146Z" fill="rgba(60,130,200,.35)" stroke="#3d85c6"/>
<path d="M100,146C112,140 120,8 126,8C132,8 136,140 143,146Z" fill="rgba(80,170,80,.3)" stroke="#55b050"/>
<path d="M105,146C115,146 120,65 128,65C134,65 138,140 143,146Z" fill="rgba(140,100,170,.3)" stroke="#8a60b0"/>
</g>
<g transform="translate(2300,682)" stroke-width="1.2">
<path d="M20,146C35,146 40,88 55,88C70,88 80,146 95,146Z" fill="rgba(230,80,80,.35)" stroke="#e03030"/>
<path d="M85,146C92,140 95,60 100,60C106,60 106,110 110,110C116,110 118,12 124,12C130,12 132,140 140,146Z" fill="rgba(60,130,200,.35)" stroke="#3d85c6"/>
<path d="M85,146C92,140 95,55 100,55C106,55 106,110 110,110C116,110 118,5 124,5C130,5 132,140 140,146Z" fill="rgba(80,170,80,.3)" stroke="#55b050"/>
</g>
<g transform="translate(2450,835)" stroke-width="1.2">
<path d="M10,146C25,146 30,58 45,58C65,58 75,146 90,146Z" fill="rgba(230,80,80,.35)" stroke="#e03030"/>
<path d="M60,146C70,140 72,5 78,5C84,5 86,80 92,80C96,80 98,42 102,42C108,42 112,140 125,146Z" fill="rgba(60,130,200,.35)" stroke="#3d85c6"/>
<path d="M60,146C70,140 72,12 78,12C84,12 86,95 92,95C96,95 98,60 104,60C110,60 114,140 125,146Z" fill="rgba(80,170,80,.3)" stroke="#55b050"/>
</g>

<rect x="2662" y="93" width="448" height="444" fill="none" stroke="#000" stroke-width="1.2"/>
<g transform="translate(2876,537) scale(1380,-12.09)" fill="#8db9dc" stroke="#4a7ea8">
<rect x="-0.14" y="0" width="0.005" height="1" vector-effect="non-scaling-stroke"/>
<rect x="-0.116" y="0" width="0.005" height="1" vector-effect="non-scaling-stroke"/>
<rect x="-0.075" y="0" width="0.005" height="1" vector-effect="non-scaling-stroke"/>
<rect x="-0.07" y="0" width="0.005" height="2" vector-effect="non-scaling-stroke"/>
<rect x="-0.065" y="0" width="0.005" height="1" vector-effect="non-scaling-stroke"/>
<rect x="-0.05" y="0" width="0.005" height="2" vector-effect="non-scaling-stroke"/>
<rect x="-0.045" y="0" width="0.005" height="2" vector-effect="non-scaling-stroke"/>
<rect x="-0.04" y="0" width="0.005" height="1" vector-effect="non-scaling-stroke"/>
<rect x="-0.035" y="0" width="0.005" height="2" vector-effect="non-scaling-stroke"/>
<rect x="-0.03" y="0" width="0.005" height="3" vector-effect="non-scaling-stroke"/>
<rect x="-0.025" y="0" width="0.005" height="3" vector-effect="non-scaling-stroke"/>
<rect x="-0.02" y="0" width="0.005" height="4" vector-effect="non-scaling-stroke"/>
<rect x="-0.015" y="0" width="0.005" height="3" vector-effect="non-scaling-stroke"/>
<rect x="-0.010" y="0" width="0.005" height="5" vector-effect="non-scaling-stroke"/>
<rect x="-0.005" y="0" width="0.005" height="35" vector-effect="non-scaling-stroke"/>
<rect x="0" y="0" width="0.005" height="9" vector-effect="non-scaling-stroke"/>
<rect x="0.005" y="0" width="0.005" height="5" vector-effect="non-scaling-stroke"/>
<rect x="0.01" y="0" width="0.005" height="4" vector-effect="non-scaling-stroke"/>
<rect x="0.015" y="0" width="0.005" height="2" vector-effect="non-scaling-stroke"/>
<rect x="0.02" y="0" width="0.005" height="1" vector-effect="non-scaling-stroke"/>
<rect x="0.025" y="0" width="0.005" height="1" vector-effect="non-scaling-stroke"/>
<rect x="0.03" y="0" width="0.005" height="1" vector-effect="non-scaling-stroke"/>
<rect x="0.035" y="0" width="0.005" height="5" vector-effect="non-scaling-stroke"/>
<rect x="0.04" y="0" width="0.005" height="1" vector-effect="non-scaling-stroke"/>
<rect x="0.045" y="0" width="0.005" height="4" vector-effect="non-scaling-stroke"/>
<rect x="0.05" y="0" width="0.005" height="1" vector-effect="non-scaling-stroke"/>
<rect x="0.055" y="0" width="0.005" height="2" vector-effect="non-scaling-stroke"/>
<rect x="0.06" y="0" width="0.005" height="3" vector-effect="non-scaling-stroke"/>
<rect x="0.065" y="0" width="0.005" height="1" vector-effect="non-scaling-stroke"/>
<rect x="0.15" y="0" width="0.005" height="1" vector-effect="non-scaling-stroke"/>
</g>
<path d="M2672,534C2780,532 2830,522 2850,470C2862,432 2868,422 2877,422C2890,422 2900,450 2915,470C2930,490 2960,490 2990,502C3020,518 3040,535 3100,536" fill="none" stroke="#2b78c0" stroke-width="2"/>
<path d="M2877,93V537" stroke="#f5a000" stroke-width="2" stroke-dasharray="6 4"/>
<g font-size="12" text-anchor="end"><text x="2654" y="541">0</text><text x="2654" y="481">5</text><text x="2654" y="420">10</text><text x="2654" y="360">15</text><text x="2654" y="300">20</text><text x="2654" y="239">25</text><text x="2654" y="179">30</text><text x="2654" y="118">35</text></g>
<path d="M2658,537H2662M2658,477H2662M2658,416H2662M2658,356H2662M2658,296H2662M2658,235H2662M2658,175H2662M2658,114H2662" stroke="#000"/>
<g font-size="12" text-anchor="middle"><text x="2669" y="556">−0.15</text><text x="2740" y="556">−0.10</text><text x="2810" y="556">−0.05</text><text x="2876" y="556">0.00</text><text x="2946" y="556">0.05</text><text x="3014" y="556">0.10</text><text x="3083" y="556">0.15</text>
<text x="2886" y="575">Residual (Observed - Predicted)</text><text transform="translate(2631,315) rotate(-90)">Frequency</text></g>

<rect x="3239" y="97" width="436" height="435" fill="none" stroke="#000" stroke-width="1.2"/>
<path d="M3258,512L3638,116" stroke="#f5a000" stroke-width="1.8" stroke-dasharray="6 4"/>
<rect x="3245" y="103" width="161" height="23" fill="#fff" stroke="#ddd" rx="3"/>
<path d="M3250,114H3276" stroke="#f5a000" stroke-width="1.8" stroke-dasharray="6 4"/>
<text x="3287" y="118" font-size="11">Perfect Prediction</text>
<g transform="translate(3258,512) scale(297,-309)" fill="#4a90cc">
<circle cx="0" cy="0" r=".012"/><circle cx=".01" cy=".01" r=".012"/><circle cx=".02" cy=".02" r=".012"/><circle cx=".03" cy=".03" r=".012"/><circle cx=".05" cy=".05" r=".012"/><circle cx=".06" cy=".06" r=".012"/><circle cx=".07" cy=".08" r=".012"/><circle cx=".08" cy=".13" r=".012"/><circle cx=".09" cy=".16" r=".012"/><circle cx=".1" cy=".11" r=".012"/><circle cx=".1" cy=".055" r=".012"/><circle cx=".11" cy=".16" r=".012"/><circle cx=".08" cy=".1" r=".012"/><circle cx=".15" cy=".2" r=".012"/><circle cx=".16" cy=".15" r=".012"/><circle cx=".17" cy=".32" r=".012"/><circle cx=".17" cy=".18" r=".012"/><circle cx=".18" cy=".17" r=".012"/><circle cx=".19" cy=".2" r=".012"/><circle cx=".19" cy=".13" r=".012"/><circle cx=".2" cy=".18" r=".012"/><circle cx=".21" cy=".28" r=".012"/><circle cx=".23" cy=".27" r=".012"/><circle cx=".24" cy=".25" r=".012"/><circle cx=".25" cy=".22" r=".012"/><circle cx=".25" cy=".18" r=".012"/><circle cx=".29" cy=".18" r=".012"/><circle cx=".3" cy=".31" r=".012"/><circle cx=".37" cy=".41" r=".012"/><circle cx=".37" cy=".39" r=".012"/><circle cx=".38" cy=".4" r=".012"/><circle cx=".39" cy=".37" r=".012"/><circle cx=".4" cy=".41" r=".012"/><circle cx=".41" cy=".4" r=".012"/><circle cx=".42" cy=".43" r=".012"/><circle cx=".43" cy=".38" r=".012"/><circle cx=".44" cy=".49" r=".012"/><circle cx=".45" cy=".45" r=".012"/><circle cx=".46" cy=".38" r=".012"/><circle cx=".5" cy=".54" r=".012"/><circle cx=".52" cy=".48" r=".012"/><circle cx=".54" cy=".55" r=".012"/><circle cx=".58" cy=".62" r=".012"/><circle cx=".6" cy=".58" r=".012"/><circle cx=".61" cy=".61" r=".012"/><circle cx=".63" cy=".63" r=".012"/><circle cx=".63" cy=".61" r=".012"/><circle cx=".92" cy=".98" r=".012"/><circle cx=".92" cy=".95" r=".012"/><circle cx=".97" cy="1.04" r=".012"/><circle cx="1.09" cy="1.08" r=".012"/><circle cx="1.09" cy="1.02" r=".012"/><circle cx="1.13" cy="1.17" r=".012"/><circle cx="1.21" cy="1.29" r=".012"/><circle cx="1.25" cy="1.22" r=".012"/><circle cx="1.34" cy="1.2" r=".012"/>
</g>
<g font-size="12" text-anchor="end"><text x="3230" y="516">0.0</text><text x="3230" y="454">0.2</text><text x="3230" y="392">0.4</text><text x="3230" y="331">0.6</text><text x="3230" y="269">0.8</text><text x="3230" y="207">1.0</text><text x="3230" y="145">1.2</text></g>
<g font-size="12" text-anchor="middle"><text x="3258" y="550">0.0</text><text x="3317" y="550">0.2</text><text x="3377" y="550">0.4</text><text x="3436" y="550">0.6</text><text x="3496" y="550">0.8</text><text x="3555" y="550">1.0</text><text x="3614" y="550">1.2</text><text x="3674" y="550">1.4</text>
<text x="3456" y="568">Predicted GAE</text><text transform="translate(3200,313) rotate(-90)">Observed GAE</text></g>

<path d="M2604,658V720" stroke="#bbb" stroke-width="1"/>
<rect x="2660" y="643" width="183" height="295" fill="none" stroke="#000" stroke-width="1.2"/>
<g transform="translate(2660,938) scale(1,-281)">
<rect x="9" y="0" width="18" height="1" fill="#d3d3d3"/>
<rect x="46" y="0" width="18" height=".5" fill="#d3d3d3"/><rect x="46" y=".5" width="18" height=".1" fill="#3d0078"/><rect x="46" y=".6" width="18" height=".4" fill="#ff3399"/>
<rect x="82" y="0" width="18" height=".1" fill="#d3d3d3"/><rect x="82" y=".1" width="18" height=".4" fill="#3d0078"/><rect x="82" y=".5" width="18" height=".5" fill="#ff3399"/>
<rect x="119" y="0" width="18" height=".475" fill="#d3d3d3"/><rect x="119" y=".475" width="18" height=".115" fill="#3d0078"/><rect x="119" y=".59" width="18" height=".41" fill="#ff3399"/>
<rect x="155" y="0" width="18" height=".3" fill="#d3d3d3"/><rect x="155" y=".3" width="18" height=".2" fill="#3d0078"/><rect x="155" y=".5" width="18" height=".5" fill="#ff3399"/>
</g>
<g font-size="12" text-anchor="end"><text x="2653" y="661">1.0</text><text x="2653" y="718">0.8</text><text x="2653" y="774">0.6</text><text x="2653" y="830">0.4</text><text x="2653" y="886">0.2</text><text x="2653" y="942">0.0</text>
<text transform="translate(2682,946) rotate(-90)">CB1</text><text transform="translate(2719,946) rotate(-90)">CB2</text><text transform="translate(2755,946) rotate(-90)">CB3</text><text transform="translate(2792,946) rotate(-90)">CB4</text><text transform="translate(2828,946) rotate(-90)">CB5</text></g>
<g font-size="12" text-anchor="middle"><text x="2751" y="992">Combination Type</text><text transform="translate(2627,790) rotate(-90)">Percentage</text></g>

<g stroke="#000" stroke-width="1.2" fill="none"><rect x="2959" y="643" width="174" height="295"/><rect x="3151" y="643" width="179" height="295"/><rect x="3347" y="643" width="179" height="295"/><rect x="3543" y="643" width="179" height="295"/></g>
<g transform="translate(2959,938) scale(1,-295)">
<rect x="7" y="0" width="26" height="1" fill="#d3d3d3"/>
<rect x="41" y="0" width="26" height=".4" fill="#d3d3d3"/><rect x="41" y=".4" width="26" height=".21" fill="#3d0078"/><rect x="41" y=".61" width="26" height=".39" fill="#ff3399"/>
<rect x="74" y="0" width="26" height=".065" fill="#d3d3d3"/><rect x="74" y=".065" width="26" height=".47" fill="#3d0078"/><rect x="74" y=".535" width="26" height=".465" fill="#ff3399"/>
<rect x="107" y="0" width="26" height=".11" fill="#d3d3d3"/><rect x="107" y=".11" width="26" height=".29" fill="#3d0078"/><rect x="107" y=".4" width="26" height=".6" fill="#ff3399"/>
<rect x="140" y="0" width="26" height=".11" fill="#d3d3d3"/><rect x="140" y=".11" width="26" height=".445" fill="#3d0078"/><rect x="140" y=".555" width="26" height=".445" fill="#ff3399"/>
</g>
<g transform="translate(3151,938) scale(1,-295)">
<rect x="9" y="0" width="26" height="1" fill="#d3d3d3"/>
<rect x="43" y="0" width="26" height=".645" fill="#d3d3d3"/><rect x="43" y=".645" width="26" height=".355" fill="#ff3399"/>
<rect x="77" y="0" width="26" height=".135" fill="#d3d3d3"/><rect x="77" y=".135" width="26" height=".53" fill="#3d0078"/><rect x="77" y=".665" width="26" height=".335" fill="#ff3399"/>
<rect x="110" y="0" width="26" height=".69" fill="#d3d3d3"/><rect x="110" y=".69" width="26" height=".31" fill="#ff3399"/>
<rect x="143" y="0" width="26" height=".335" fill="#d3d3d3"/><rect x="143" y=".335" width="26" height=".33" fill="#3d0078"/><rect x="143" y=".665" width="26" height=".335" fill="#ff3399"/>
</g>
<g transform="translate(3347,938) scale(1,-295)">
<rect x="9" y="0" width="26" height="1" fill="#d3d3d3"/>
<rect x="43" y="0" width="26" height=".445" fill="#d3d3d3"/><rect x="43" y=".445" width="26" height=".1" fill="#3d0078"/><rect x="43" y=".545" width="26" height=".455" fill="#ff3399"/>
<rect x="77" y="0" width="26" height=".01" fill="#d3d3d3"/><rect x="77" y=".01" width="26" height=".325" fill="#3d0078"/><rect x="77" y=".335" width="26" height=".665" fill="#ff3399"/>
<rect x="110" y="0" width="26" height=".665" fill="#d3d3d3"/><rect x="110" y=".665" width="26" height=".335" fill="#ff3399"/>
<rect x="143" y="0" width="26" height=".445" fill="#d3d3d3"/><rect x="143" y=".445" width="26" height=".555" fill="#ff3399"/>
</g>
<g transform="translate(3543,938) scale(1,-295)">
<rect x="9" y="0" width="26" height="1" fill="#d3d3d3"/>
<rect x="43" y="0" width="26" height=".52" fill="#d3d3d3"/><rect x="43" y=".52" width="26" height=".08" fill="#3d0078"/><rect x="43" y=".6" width="26" height=".4" fill="#ff3399"/>
<rect x="77" y="0" width="26" height=".2" fill="#d3d3d3"/><rect x="77" y=".2" width="26" height=".29" fill="#3d0078"/><rect x="77" y=".49" width="26" height=".51" fill="#ff3399"/>
<rect x="110" y="0" width="26" height=".445" fill="#d3d3d3"/><rect x="110" y=".445" width="26" height=".155" fill="#3d0078"/><rect x="110" y=".6" width="26" height=".4" fill="#ff3399"/>
<rect x="143" y="0" width="26" height=".335" fill="#d3d3d3"/><rect x="143" y=".335" width="26" height=".665" fill="#ff3399"/>
</g>
<g font-size="13" text-anchor="end"><text x="2951" y="648">1.0</text><text x="2951" y="707">0.8</text><text x="2951" y="766">0.6</text><text x="2951" y="825">0.4</text><text x="2951" y="884">0.2</text><text x="2951" y="943">0.0</text></g>
<g font-size="12" text-anchor="end">
<text transform="translate(2984,946) rotate(-90)">CB1</text><text transform="translate(3018,946) rotate(-90)">CB2</text><text transform="translate(3051,946) rotate(-90)">CB3</text><text transform="translate(3084,946) rotate(-90)">CB4</text><text transform="translate(3117,946) rotate(-90)">CB5</text>
<text transform="translate(3178,946) rotate(-90)">CB1</text><text transform="translate(3212,946) rotate(-90)">CB2</text><text transform="translate(3246,946) rotate(-90)">CB3</text><text transform="translate(3279,946) rotate(-90)">CB4</text><text transform="translate(3312,946) rotate(-90)">CB5</text>
<text transform="translate(3374,946) rotate(-90)">CB1</text><text transform="translate(3408,946) rotate(-90)">CB2</text><text transform="translate(3442,946) rotate(-90)">CB3</text><text transform="translate(3475,946) rotate(-90)">CB4</text><text transform="translate(3508,946) rotate(-90)">CB5</text>
<text transform="translate(3570,946) rotate(-90)">CB1</text><text transform="translate(3604,946) rotate(-90)">CB2</text><text transform="translate(3638,946) rotate(-90)">CB3</text><text transform="translate(3671,946) rotate(-90)">CB4</text><text transform="translate(3704,946) rotate(-90)">CB5</text>
</g>
<g font-size="13" text-anchor="middle"><text x="3046" y="992">Combination Type</text><text x="3240" y="992">Combination Type</text><text x="3436" y="992">Combination Type</text><text x="3632" y="992">Combination Type</text><text transform="translate(2916,790) rotate(-90)">Percentage</text></g>
</g>
</svg>
</body></html>
